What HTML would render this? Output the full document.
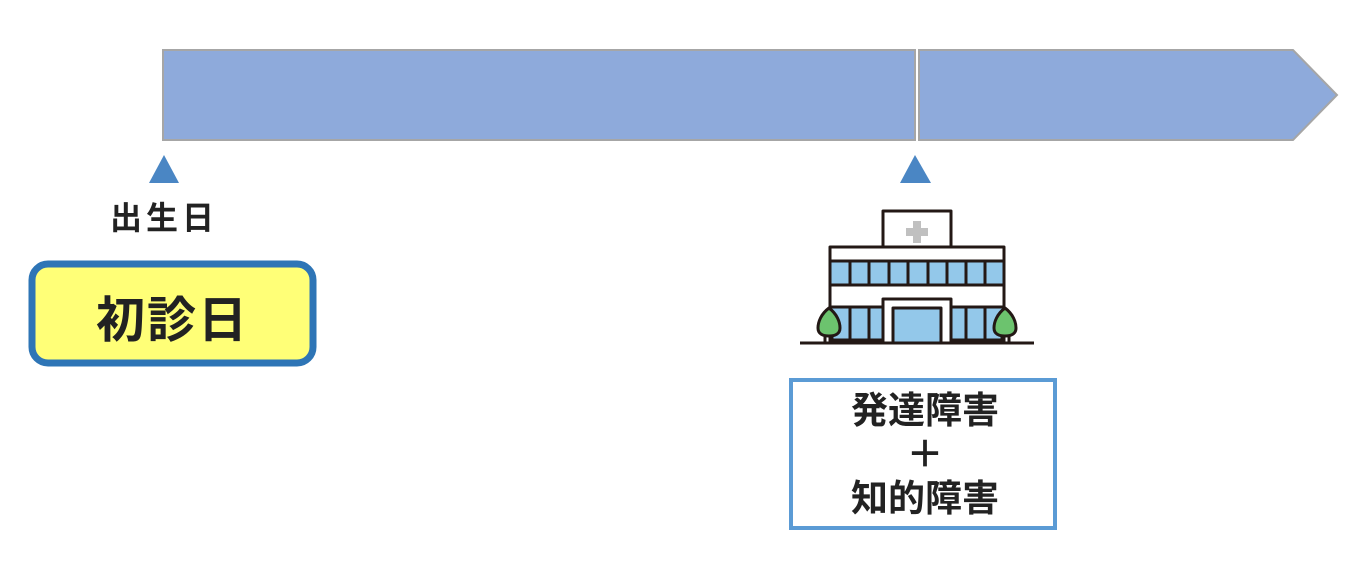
<!DOCTYPE html>
<html><head><meta charset="utf-8"><style>
body{margin:0;width:1368px;height:582px;background:#fff;overflow:hidden;position:relative;font-family:"Liberation Sans","Noto Sans CJK JP",sans-serif;}
.t{position:absolute;font-weight:bold;color:#222;white-space:nowrap;}
</style></head><body>
<svg width="1368" height="582" style="position:absolute;left:0;top:0">
<polygon points="163,50 915,50 915,140 163,140" fill="#8eaadb" stroke="#a6a6a6" stroke-width="2"/>
<polygon points="919,50 1293,50 1337,95 1293,140 919,140" fill="#8eaadb" stroke="#a6a6a6" stroke-width="2"/>
<polygon points="164,155 179,183 149,183" fill="#4a86c4"/>
<polygon points="915,155 931,183 900,183" fill="#4a86c4"/>
<rect x="32" y="264" width="281" height="99" rx="16" fill="#ffff77" stroke="#2e75b6" stroke-width="7"/>
<rect x="791" y="380" width="264" height="148" fill="#fff" stroke="#5b9bd5" stroke-width="4"/>
<g stroke="#231815" stroke-width="3" stroke-linejoin="round">
<rect x="883" y="211" width="68" height="40" fill="#fff"/>
<rect x="830" y="247" width="174" height="96" fill="#fff"/>
<rect x="830" y="261" width="174" height="24" fill="#93c8ea"/>
<rect x="830" y="307" width="174" height="33" fill="#93c8ea"/>
<line x1="850" y1="261" x2="850" y2="285"/><line x1="869" y1="261" x2="869" y2="285"/><line x1="889" y1="261" x2="889" y2="285"/><line x1="908" y1="261" x2="908" y2="285"/><line x1="928" y1="261" x2="928" y2="285"/><line x1="947" y1="261" x2="947" y2="285"/><line x1="966" y1="261" x2="966" y2="285"/><line x1="985" y1="261" x2="985" y2="285"/>
<line x1="850" y1="307" x2="850" y2="340"/><line x1="869" y1="307" x2="869" y2="340"/><line x1="966" y1="307" x2="966" y2="340"/><line x1="985" y1="307" x2="985" y2="340"/>
<rect x="883" y="299" width="68" height="44" fill="#fff"/>
<rect x="893" y="308" width="48" height="35" fill="#93c8ea"/>
<line x1="800" y1="343" x2="1034" y2="343"/>
<line x1="825" y1="335" x2="825" y2="343"/><line x1="832" y1="335" x2="832" y2="343"/>
<line x1="1002" y1="335" x2="1002" y2="343"/><line x1="1009" y1="335" x2="1009" y2="343"/>
<path d="M829,308 C821,314 818,322 818,328 C818,334 823,336 829,336 C835,336 840,334 840,328 C840,322 837,314 829,308Z" fill="#6cc36e"/>
<path d="M1005,308 C997,314 994,322 994,328 C994,334 999,336 1005,336 C1011,336 1016,334 1016,328 C1016,322 1013,314 1005,308Z" fill="#6cc36e"/>
</g>
<rect x="913" y="221" width="8" height="22" fill="#c0c0c0"/>
<rect x="906" y="228" width="22" height="8" fill="#c0c0c0"/>
</svg>
<div class="t" style="left:110px;top:193px;font-size:32px;letter-spacing:4px;">出生日</div>
<div class="t" style="left:32px;top:281px;width:281px;text-align:center;font-size:49px;letter-spacing:2px;">初診日</div>
<div class="t" style="left:791px;top:389px;width:268px;text-align:center;font-size:37px;line-height:44px;">発達障害<br>＋<br>知的障害</div>
</body></html>
